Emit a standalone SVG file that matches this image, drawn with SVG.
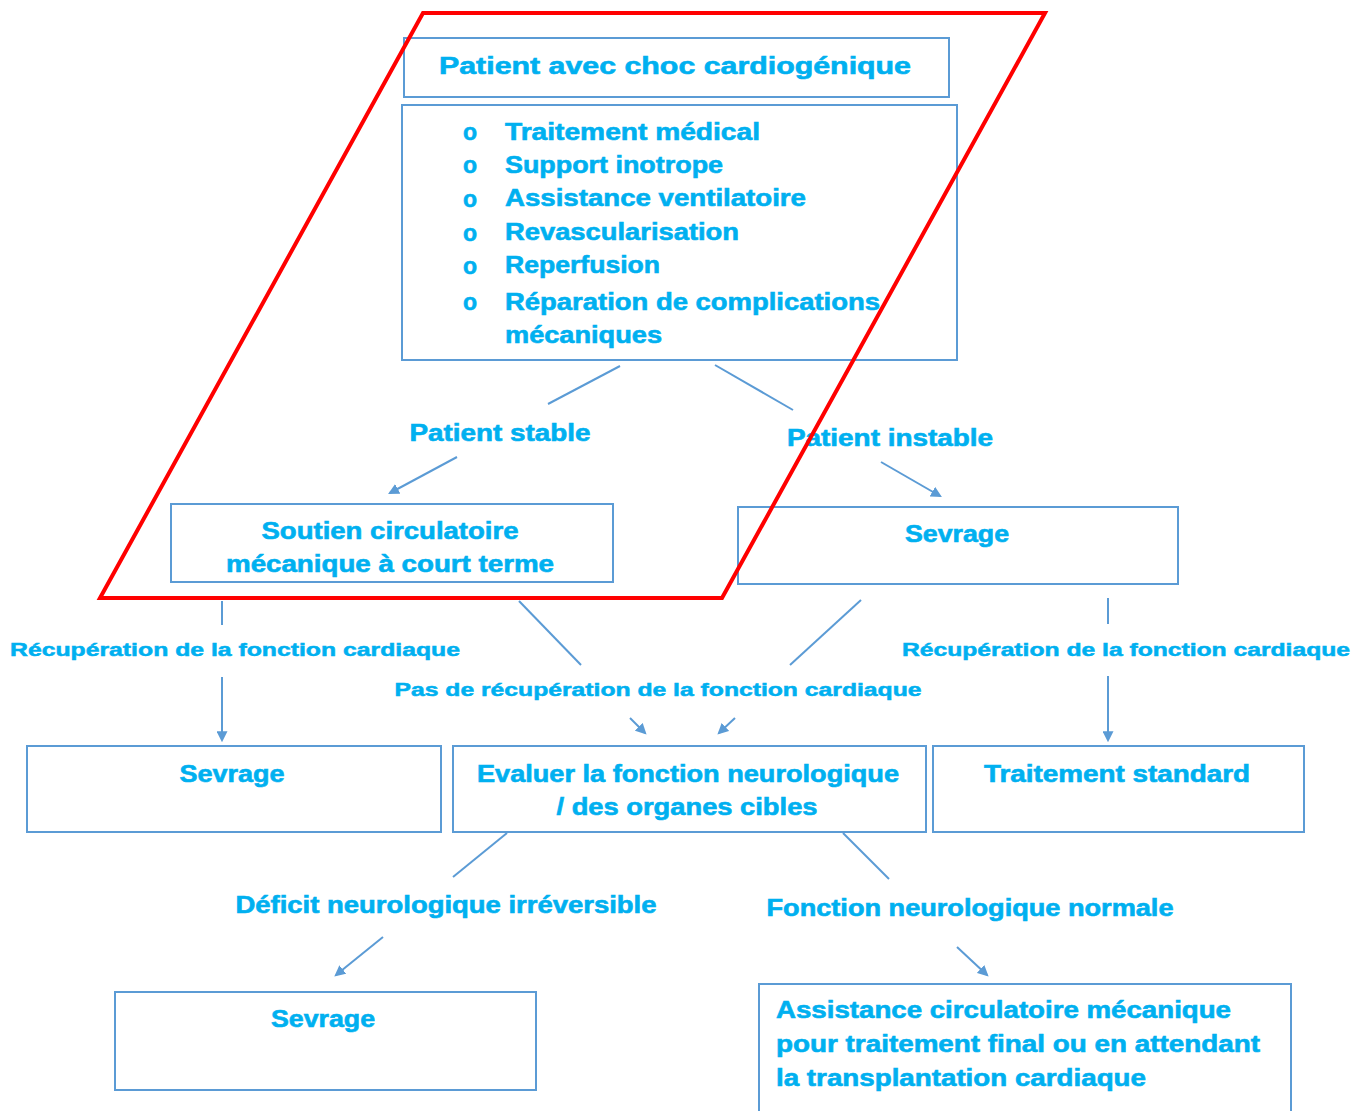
<svg xmlns="http://www.w3.org/2000/svg" width="1370" height="1111" viewBox="0 0 1370 1111">
  <defs>
    <style>
      .box { fill: #ffffff; stroke: #5b9bd5; stroke-width: 2; }
      .t { font-family: "Liberation Sans", Arial, sans-serif; font-weight: bold; fill: #00b0f0; stroke: #00b0f0; stroke-width: 0.6; font-size: 23px; }
      .s { font-size: 18px; stroke-width: 0.5; }
      .c { text-anchor: middle; }
      .ln { fill: none; stroke: #5b9bd5; stroke-width: 2; }
      .ar { fill: none; stroke: #5b9bd5; stroke-width: 2; marker-end: url(#head); }
    </style>
    <marker id="head" viewBox="0 0 10 10" refX="8" refY="5" markerWidth="5.5" markerHeight="5.5" orient="auto" markerUnits="strokeWidth">
      <path d="M0,0 L10,5 L0,10 z" fill="#5b9bd5"/>
    </marker>
  </defs>

  <rect width="1370" height="1111" fill="#ffffff"/>

  <g id="start">
    <rect class="box" x="404" y="38" width="545" height="59"/>
    <text class="t c" x="675" y="74" textLength="472" lengthAdjust="spacingAndGlyphs">Patient avec choc cardiogénique</text>
  </g>

  <g id="treatments">
    <rect class="box" x="402" y="105" width="555" height="255"/>
    <g class="t" font-size="15">
      <text x="463" y="140">o</text>
      <text x="463" y="173">o</text>
      <text x="463" y="207">o</text>
      <text x="463" y="241">o</text>
      <text x="463" y="274">o</text>
      <text x="463" y="310">o</text>
    </g>
    <text class="t" x="505" y="140" textLength="255" lengthAdjust="spacingAndGlyphs">Traitement médical</text>
    <text class="t" x="505" y="173" textLength="218" lengthAdjust="spacingAndGlyphs">Support inotrope</text>
    <text class="t" x="505" y="206" textLength="301" lengthAdjust="spacingAndGlyphs">Assistance ventilatoire</text>
    <text class="t" x="505" y="240" textLength="234" lengthAdjust="spacingAndGlyphs">Revascularisation</text>
    <text class="t" x="505" y="273" textLength="155" lengthAdjust="spacingAndGlyphs">Reperfusion</text>
    <text class="t" x="505" y="310" textLength="375" lengthAdjust="spacingAndGlyphs">Réparation de complications</text>
    <text class="t" x="505" y="343" textLength="157" lengthAdjust="spacingAndGlyphs">mécaniques</text>
  </g>

  <g id="short-term-support">
    <rect class="box" x="171" y="504" width="442" height="78"/>
    <text class="t c" x="390" y="539" textLength="257" lengthAdjust="spacingAndGlyphs">Soutien circulatoire</text>
    <text class="t c" x="390" y="572" textLength="328" lengthAdjust="spacingAndGlyphs">mécanique à court terme</text>
  </g>

  <g id="weaning-unstable">
    <rect class="box" x="738" y="507" width="440" height="77"/>
    <text class="t c" x="957" y="542" textLength="104" lengthAdjust="spacingAndGlyphs">Sevrage</text>
  </g>

  <g id="weaning-recovered">
    <rect class="box" x="27" y="746" width="414" height="86"/>
    <text class="t c" x="232" y="782" textLength="105" lengthAdjust="spacingAndGlyphs">Sevrage</text>
  </g>

  <g id="evaluate">
    <rect class="box" x="453" y="746" width="473" height="86"/>
    <text class="t c" x="688" y="782" textLength="422" lengthAdjust="spacingAndGlyphs">Evaluer la fonction neurologique</text>
    <text class="t c" x="687" y="815" textLength="261" lengthAdjust="spacingAndGlyphs">/ des organes cibles</text>
  </g>

  <g id="standard-care">
    <rect class="box" x="933" y="746" width="371" height="86"/>
    <text class="t c" x="1117" y="782" textLength="266" lengthAdjust="spacingAndGlyphs">Traitement standard</text>
  </g>

  <g id="weaning-deficit">
    <rect class="box" x="115" y="992" width="421" height="98"/>
    <text class="t c" x="323" y="1027" textLength="104" lengthAdjust="spacingAndGlyphs">Sevrage</text>
  </g>

  <g id="long-term-support">
    <rect class="box" x="759" y="984" width="532" height="140"/>
    <text class="t" x="776" y="1018" textLength="455" lengthAdjust="spacingAndGlyphs">Assistance circulatoire mécanique</text>
    <text class="t" x="776" y="1052" textLength="484" lengthAdjust="spacingAndGlyphs">pour traitement final ou en attendant</text>
    <text class="t" x="776" y="1086" textLength="370" lengthAdjust="spacingAndGlyphs">la transplantation cardiaque</text>
  </g>

  <g id="connectors">
    <line class="ln" x1="620" y1="366" x2="548" y2="404"/>
    <line class="ln" x1="715" y1="365" x2="793" y2="410"/>
    <line class="ar" x1="457" y1="457" x2="390" y2="493"/>
    <line class="ar" x1="881" y1="462" x2="940" y2="496"/>

    <line class="ln" x1="222" y1="601" x2="222" y2="625"/>
    <line class="ar" x1="222" y1="677" x2="222" y2="740"/>
    <line class="ln" x1="519" y1="601" x2="581" y2="665"/>
    <line class="ar" x1="630" y1="718" x2="645" y2="733"/>
    <line class="ln" x1="861" y1="600" x2="790" y2="665"/>
    <line class="ar" x1="735" y1="718" x2="719" y2="733"/>
    <line class="ln" x1="1108" y1="598" x2="1108" y2="624"/>
    <line class="ar" x1="1108" y1="676" x2="1108" y2="740"/>

    <line class="ln" x1="507" y1="833" x2="453" y2="877"/>
    <line class="ar" x1="383" y1="937" x2="336" y2="975"/>
    <line class="ln" x1="843" y1="833" x2="889" y2="879"/>
    <line class="ar" x1="957" y1="947" x2="987" y2="975"/>
  </g>

  <g id="labels">
    <text class="t c" x="500" y="441" textLength="181" lengthAdjust="spacingAndGlyphs">Patient stable</text>
    <text class="t c" x="890" y="446" textLength="206" lengthAdjust="spacingAndGlyphs">Patient instable</text>
    <text class="t s c" x="235" y="656" textLength="450" lengthAdjust="spacingAndGlyphs">Récupération de la fonction cardiaque</text>
    <text class="t s c" x="658" y="696" textLength="527" lengthAdjust="spacingAndGlyphs">Pas de récupération de la fonction cardiaque</text>
    <text class="t s c" x="1126" y="656" textLength="448" lengthAdjust="spacingAndGlyphs">Récupération de la fonction cardiaque</text>
    <text class="t c" x="446" y="913" textLength="421" lengthAdjust="spacingAndGlyphs">Déficit neurologique irréversible</text>
    <text class="t c" x="970" y="916" textLength="407" lengthAdjust="spacingAndGlyphs">Fonction neurologique normale</text>
  </g>

  <g id="highlight">
    <polygon points="423,13 1045,13 722,598 100,598" fill="none" stroke="#ff0000" stroke-width="4"/>
  </g>
</svg>
